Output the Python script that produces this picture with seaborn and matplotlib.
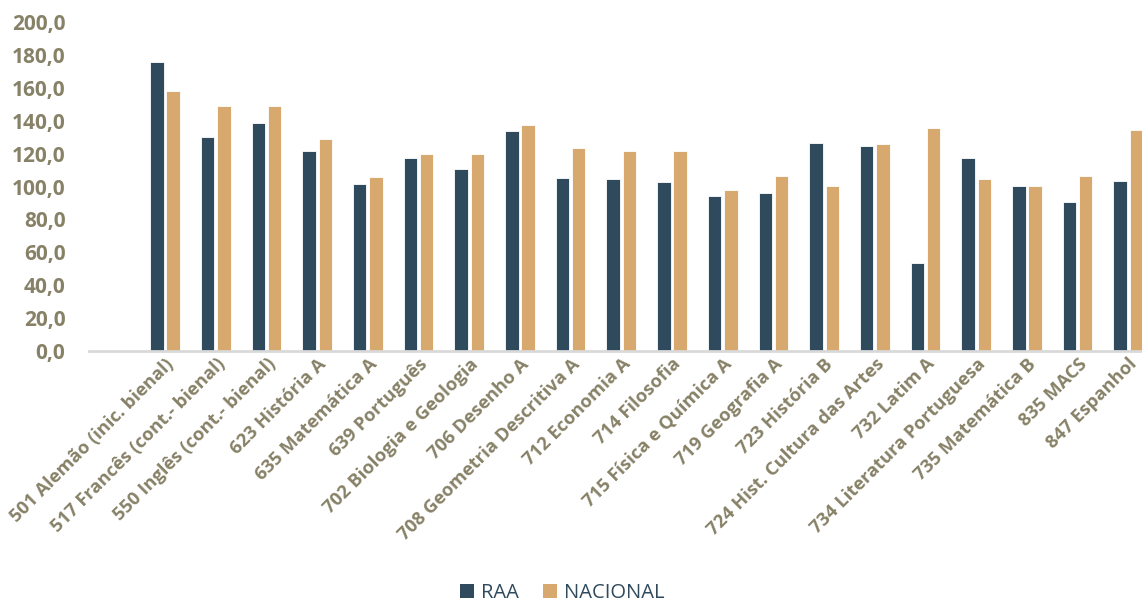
import matplotlib
matplotlib.use("Agg")
import matplotlib.pyplot as plt
import seaborn as sns
import pandas as pd
from matplotlib.patches import Patch

disciplinas = [
    "501 Alemão (inic. bienal)",
    "517 Francês (cont.- bienal)",
    "550 Inglês (cont.- bienal)",
    "623 História A",
    "635 Matemática A",
    "639 Português",
    "702 Biologia e Geologia",
    "706 Desenho A",
    "708 Geometria Descritiva A",
    "712 Economia A",
    "714 Filosofia",
    "715 Física e Química A",
    "719 Geografia A",
    "723 História B",
    "724 Hist. Cultura das Artes",
    "732 Latim A",
    "734 Literatura Portuguesa",
    "735 Matemática B",
    "835 MACS",
    "847 Espanhol",
]

raa = [175.5, 130.1, 138.6, 121.8, 101.5, 117.1, 110.4, 133.9, 105.2, 104.4,
       102.5, 94.4, 95.9, 126.3, 124.6, 53.3, 117.1, 100.5, 90.4, 103.5]
nacional = [157.9, 148.7, 148.7, 128.7, 105.6, 119.6, 119.6, 137.6, 123.6, 121.4,
            121.4, 97.7, 106.6, 100.5, 125.6, 135.7, 104.6, 100.5, 106.6, 134.5]

series = ["RAA", "NACIONAL"]
cores = ["#2E4A5C", "#D8A96F"]
cor_texto = "#878167"

df = pd.DataFrame({
    "Disciplina": disciplinas * 2,
    "Série": [series[0]] * len(raa) + [series[1]] * len(nacional),
    "Valor": raa + nacional,
})

sns.set_theme(style="white")
plt.rcParams["font.family"] = ["Open Sans", "DejaVu Sans"]

fig = plt.figure(figsize=(11.42, 6.03), dpi=100)
ax = fig.add_axes([89 / 1142, 1 - 351 / 603, 1 - 89 / 1142, (351 - 22) / 603])

sns.barplot(data=df, x="Disciplina", y="Valor", hue="Série", order=disciplinas,
            hue_order=series, palette=cores, saturation=1, width=0.64, gap=0.17,
            edgecolor="white", linewidth=0.6, legend=False, ax=ax)

ax.set_ylim(0, 200)
ax.set_xlim(-1.5, 19.27)
ax.set_yticks(range(0, 201, 20))
ax.set_yticklabels([f"{v},0" for v in range(0, 201, 20)])
ax.tick_params(axis="y", length=0, pad=17, labelsize=15, labelcolor=cor_texto)
ax.tick_params(axis="x", length=0, pad=3, labelsize=13.2, labelcolor=cor_texto)
for lbl in ax.get_yticklabels():
    lbl.set_fontweight("bold")
for lbl in ax.get_xticklabels():
    lbl.set_rotation(45)
    lbl.set_ha("right")
    lbl.set_rotation_mode("anchor")
    lbl.set_fontweight("bold")

ax.set_xlabel("")
ax.set_ylabel("")
for lado in ["top", "right", "left"]:
    ax.spines[lado].set_visible(False)
ax.spines["bottom"].set_color("#D9D9D9")
ax.spines["bottom"].set_linewidth(2)
ax.grid(False)

handles = [Patch(facecolor=c, edgecolor="none") for c in cores]
leg = fig.legend(handles, series, loc="center", bbox_to_anchor=(562 / 1142, 1 - 593 / 603),
                 ncol=2, frameon=False, fontsize=14.5, handlelength=0.7, handleheight=0.7,
                 handletextpad=0.35, columnspacing=1.2)
for t in leg.get_texts():
    t.set_color("#2E4A5C")

fig.savefig("out.png", dpi=100)
